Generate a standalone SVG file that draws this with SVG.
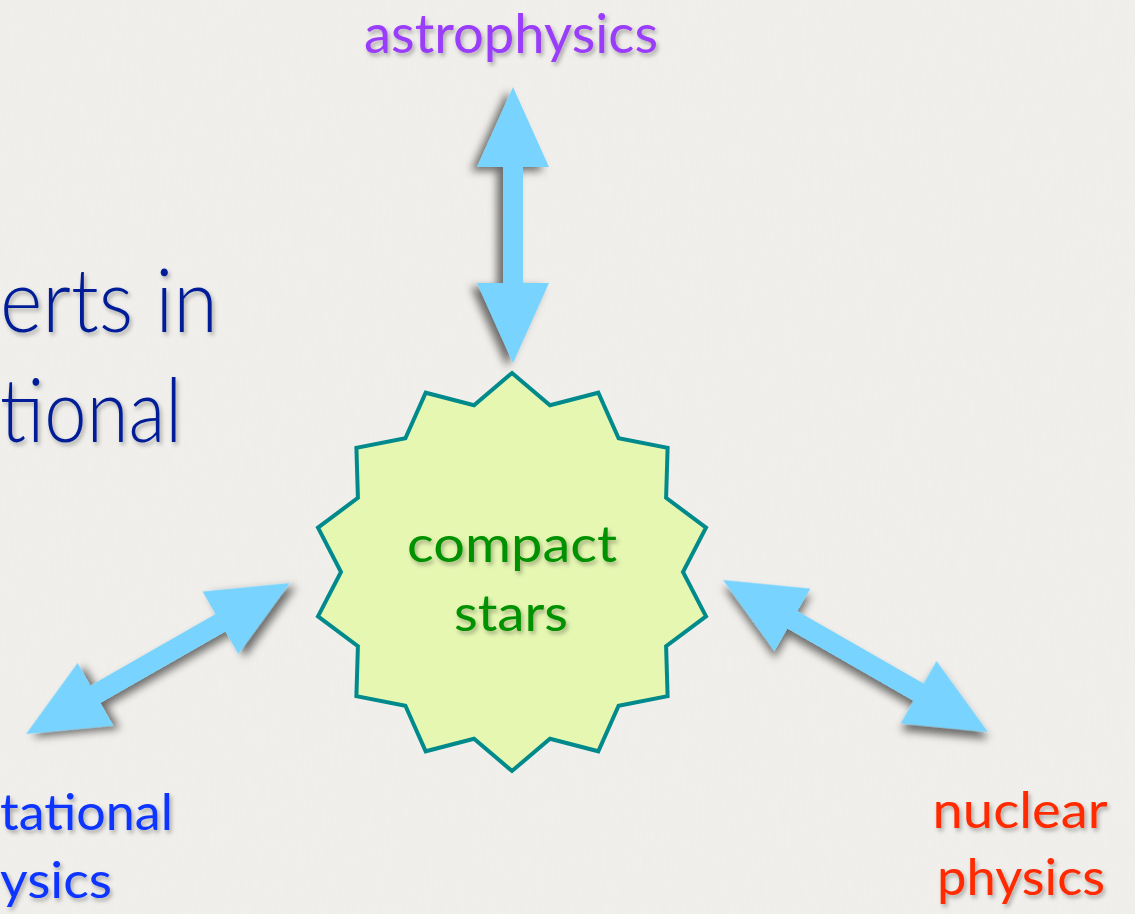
<svg xmlns="http://www.w3.org/2000/svg" width="1135" height="914" viewBox="0 0 1135 914">
<defs>
<filter id="paper" x="0" y="0" width="100%" height="100%">
<feTurbulence type="fractalNoise" baseFrequency="0.9 0.04" numOctaves="2" seed="3" result="n"/>
<feColorMatrix in="n" type="matrix" values="0 0 0 0 0.6  0 0 0 0 0.6  0 0 0 0 0.6  0 0 0 0.08 0"/>
</filter>
<filter id="ashadow" x="-20%" y="-20%" width="140%" height="140%">
<feDropShadow dx="4" dy="6" stdDeviation="4" flood-color="#000" flood-opacity="0.55"/>
</filter>
<filter id="tshadow" x="-10%" y="-20%" width="120%" height="150%">
<feDropShadow dx="2" dy="3" stdDeviation="2" flood-color="#000" flood-opacity="0.3"/>
</filter>
<style>
.t{font-family:Lato,"Open Sans","Liberation Sans",sans-serif;filter:url(#tshadow)}
.arrow{fill:#78d4ff;filter:url(#ashadow)}
</style>
</defs>
<rect width="1135" height="914" fill="#f1f0ec"/>
<rect width="1135" height="914" filter="url(#paper)"/>

<g id="intro">
<text class="t" x="0" y="332" font-size="88" font-weight="300" fill="#001e96" textLength="218" lengthAdjust="spacingAndGlyphs">erts in</text>
<text class="t" x="0" y="442" font-size="88" font-weight="300" fill="#001e96" textLength="182" lengthAdjust="spacingAndGlyphs">tional</text>
</g>

<g id="connectors">
<polygon class="arrow" transform="translate(513,87) rotate(90)" points="0,0 80,-36 80,-10 196,-10 196,-36 276,0 196,36 196,10 80,10 80,36"/>
<polygon class="arrow" transform="translate(26,734) rotate(-29.77)" points="0,0 80,-36 80,-10 224,-10 224,-36 304,0 224,36 224,10 80,10 80,36"/>
<polygon class="arrow" transform="translate(723,580) rotate(29.84)" points="0,0 80,-36 80,-10 225.5,-10 225.5,-36 305.5,0 225.5,36 225.5,10 80,10 80,36"/>
</g>

<g id="compact-stars">
<polygon fill="#e6f7b2" stroke="#008a8b" stroke-width="4" stroke-linejoin="miter" points="512,373 550,405.3 598.3,392.7 618.6,438.3 667.6,447.9 666.1,497.8 706,527.7 683,572 706,616.3 666.1,646.2 667.6,696.1 618.6,705.7 598.3,751.3 550,738.7 512,771 474,738.7 425.7,751.3 405.4,705.7 356.4,696.1 357.9,646.2 318,616.3 341,572 318,527.7 357.9,497.8 356.4,447.9 405.4,438.3 425.7,392.7 474,405.3"/>
<text class="t" x="512" y="562" text-anchor="middle" font-size="50" fill="#009100" textLength="210" lengthAdjust="spacingAndGlyphs">compact</text>
<text class="t" x="511" y="631" text-anchor="middle" font-size="50" fill="#009100" textLength="114" lengthAdjust="spacingAndGlyphs">stars</text>
</g>

<g id="astrophysics">
<text class="t" x="511" y="53" text-anchor="middle" font-size="54" fill="#9a3cfa" textLength="294" lengthAdjust="spacingAndGlyphs">astrophysics</text>
</g>

<g id="gravitational">
<text class="t" x="0" y="830" font-size="50" fill="#0a35ff" textLength="173" lengthAdjust="spacingAndGlyphs">tational</text>
<text class="t" x="0" y="898" font-size="50" fill="#0a35ff" textLength="112" lengthAdjust="spacingAndGlyphs">ysics</text>
</g>

<g id="nuclear">
<text class="t" x="1020" y="828" text-anchor="middle" font-size="50" fill="#ff2a00" textLength="175" lengthAdjust="spacingAndGlyphs">nuclear</text>
<text class="t" x="1021" y="895" text-anchor="middle" font-size="50" fill="#ff2a00" textLength="168" lengthAdjust="spacingAndGlyphs">physics</text>
</g>
</svg>
